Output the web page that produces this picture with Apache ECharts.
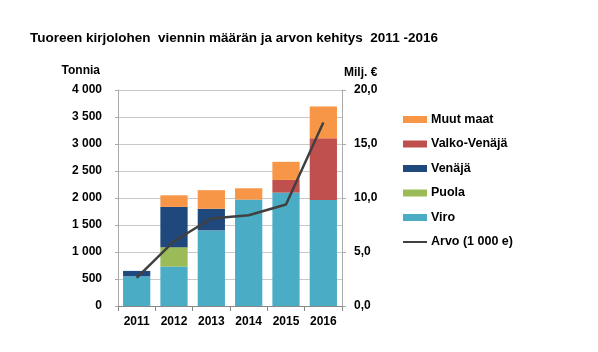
<!DOCTYPE html>
<html><head><meta charset="utf-8">
<script src="https://cdn.jsdelivr.net/npm/echarts@6/dist/echarts.min.js"></script>
<style>html,body{margin:0;padding:0;background:#fff}#c{width:598px;height:352px}</style>
</head><body><div id="c"></div>
<script>
const years = ['2011','2012','2013','2014','2015','2016'];
const viro = [550, 730, 1400, 1970, 2100, 1965];
const puola = [0, 360, 0, 0, 0, 0];
const venaja = [100, 745, 400, 0, 0, 0];
const valkoVenaja = [0, 0, 0, 0, 235, 1140];
const muutMaat = [0, 215, 345, 210, 335, 590];
const arvo = [2.6, 6.0, 8.1, 8.4, 9.4, 17.0];
const leftTicks = ['0','500','1 000','1 500','2 000','2 500','3 000','3 500','4 000'];

const FONT = 'Liberation Sans';
const chart = echarts.init(document.getElementById('c'));
function bar(name, data, color){
  return {name, type:'bar', stack:'s', data, barCategoryGap:'27%', itemStyle:{color}, emphasis:{disabled:true}};
}
chart.setOption({
  animation:false,
  textStyle:{fontFamily:FONT},
  title:{text:'Tuoreen kirjolohen  viennin määrän ja arvon kehitys  2011 -2016', left:25, top:26,
    textStyle:{fontFamily:FONT, fontSize:13.5, fontWeight:'bold', color:'#000'}},
  grid:{left:118, right:256, top:90, bottom:46},
  legend:{orient:'vertical', left:403, top:113, padding:0, itemGap:11.5, itemWidth:24, itemHeight:7,
    textStyle:{fontFamily:FONT, fontSize:12.5, fontWeight:'bold', color:'#000', padding:[0,0,0,-1]},
    data:[
      {name:'Muut maat', icon:'rect'},
      {name:'Valko-Venäjä', icon:'rect'},
      {name:'Venäjä', icon:'rect'},
      {name:'Puola', icon:'rect'},
      {name:'Viro', icon:'rect'},
      {name:'Arvo (1 000 e)', icon:'path://M0,2.5L24,2.5L24,4.5L0,4.5Z'}
    ]},
  xAxis:{type:'category', data:years,
    axisLine:{lineStyle:{color:'#888'}}, axisTick:{show:true, alignWithLabel:false, lineStyle:{color:'#888'}},
    axisLabel:{fontFamily:FONT, fontSize:12, fontWeight:'bold', color:'#000', margin:10}},
  yAxis:[
    {type:'value', min:0, max:4000, interval:500, name:'Tonnia', nameLocation:'end', nameGap:13,
     nameTextStyle:{fontFamily:FONT, fontSize:12, fontWeight:'bold', color:'#000', align:'right', padding:[0,18,0,0]},
     axisLine:{show:true, lineStyle:{color:'#aaa'}}, axisTick:{show:true, length:3, lineStyle:{color:'#aaa'}},
     splitLine:{lineStyle:{color:'#c8c8c8'}},
     axisLabel:{fontFamily:FONT, fontSize:12, fontWeight:'bold', color:'#000', margin:16,
       formatter:(v)=>leftTicks[Math.round(v/500)]}},
    {type:'value', min:0, max:20, interval:5, name:'Milj. €', nameLocation:'end', nameGap:11,
     nameTextStyle:{fontFamily:FONT, fontSize:12, fontWeight:'bold', color:'#000', align:'left', padding:[0,0,0,2]},
     axisLine:{show:true, lineStyle:{color:'#aaa'}}, axisTick:{show:true, length:4, lineStyle:{color:'#aaa'}},
     splitLine:{show:false},
     axisLabel:{fontFamily:FONT, fontSize:12, fontWeight:'bold', color:'#000', margin:12,
       formatter:(v)=>v.toFixed(1).replace('.',',')}}
  ],
  series:[
    bar('Viro', viro, '#4BACC6'),
    bar('Puola', puola, '#9BBB59'),
    bar('Venäjä', venaja, '#1F497D'),
    bar('Valko-Venäjä', valkoVenaja, '#C0504D'),
    bar('Muut maat', muutMaat, '#F79646'),
    {name:'Arvo (1 000 e)', type:'line', yAxisIndex:1, data:arvo, showSymbol:false, symbol:'none',
     lineStyle:{color:'#404040', width:2.5}, itemStyle:{color:'#404040'}, z:5}
  ]
});
</script></body></html>
